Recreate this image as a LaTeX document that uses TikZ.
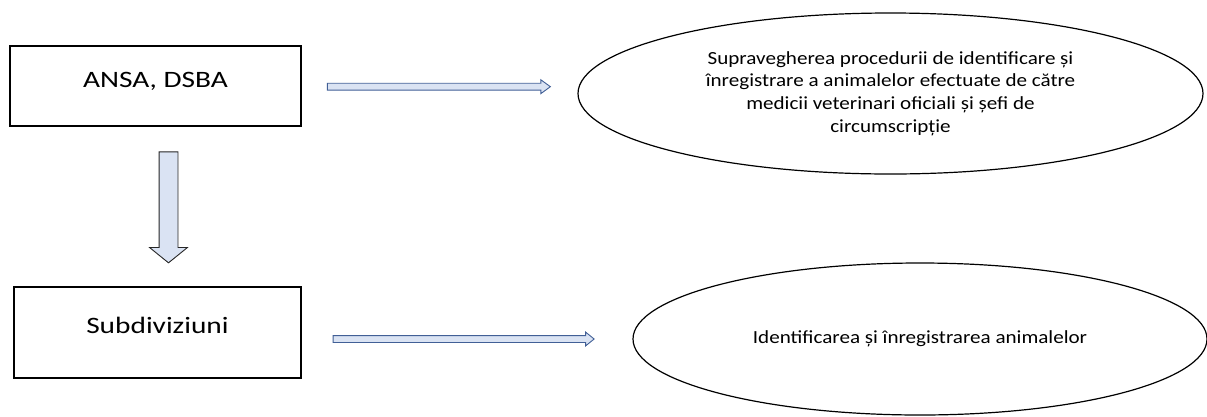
\documentclass[tikz,border=0pt]{standalone}
\usepackage{fontspec}
\setmainfont{Carlito}[FakeStretch=1.14]
\newfontfamily\boxfont{Carlito}[FakeStretch=1.25]
\usetikzlibrary{shapes.geometric,shapes.arrows}

\definecolor{arrowfill}{RGB}{218,227,243}
\definecolor{arrowline}{RGB}{65,95,150}

\begin{document}
\begin{tikzpicture}[x=1pt, y=-1pt]

  \tikzstyle{box} = [draw, line width=1.2, rectangle, inner sep=0, font=\boxfont\fontsize{23.5}{28}\selectfont]
  \tikzstyle{oval} = [draw, line width=1.2, ellipse, inner sep=0, align=center, font=\fontsize{18.5}{22.7}\selectfont]
  \tikzstyle{blockarrow} = [single arrow, fill=arrowfill, line width=0.9, minimum width=0]

  \useasboundingbox (0,0) rectangle (1207,416);

  % left column
  \node[box, minimum width=291pt, minimum height=80pt, text height=14pt, text depth=12pt] (ansa) at (155.5,86) {ANSA, DSBA};
  \node[box, minimum width=287pt, minimum height=91pt, text height=15pt, text depth=14pt] (subdiv) at (157.5,332.5) {Subdiviziuni};

  % right column
  \node[oval, minimum width=625pt, minimum height=161pt] (superv) at (890.5,93.5)
    {Supravegherea procedurii de identificare și\\
     înregistrare a animalelor efectuate de către\\
     medicii veterinari oficiali și șefi de\\
     circumscripție};
  \node[oval, minimum width=574pt, minimum height=152pt] (ident) at (920,339)
    {Identificarea și înregistrarea animalelor};

  % arrows
  \node[blockarrow, draw=arrowline, minimum height=223pt, inner xsep=0, inner ysep=3pt, single arrow head extend=3.5pt, single arrow tip angle=72] (arrA) at (436.5,86.7) {};
  \node[blockarrow, draw=arrowline, minimum height=261pt, inner xsep=0, inner ysep=3pt, single arrow head extend=3.5pt, single arrow tip angle=78] (arrB) at (461.5,339) {};
  \node[blockarrow, draw=black!85, shape border rotate=270, minimum height=111pt, inner xsep=9pt, inner ysep=0, single arrow head extend=9.5pt, single arrow tip angle=102] (arrC) at (168.5,203.5) {};

\end{tikzpicture}
\end{document}
